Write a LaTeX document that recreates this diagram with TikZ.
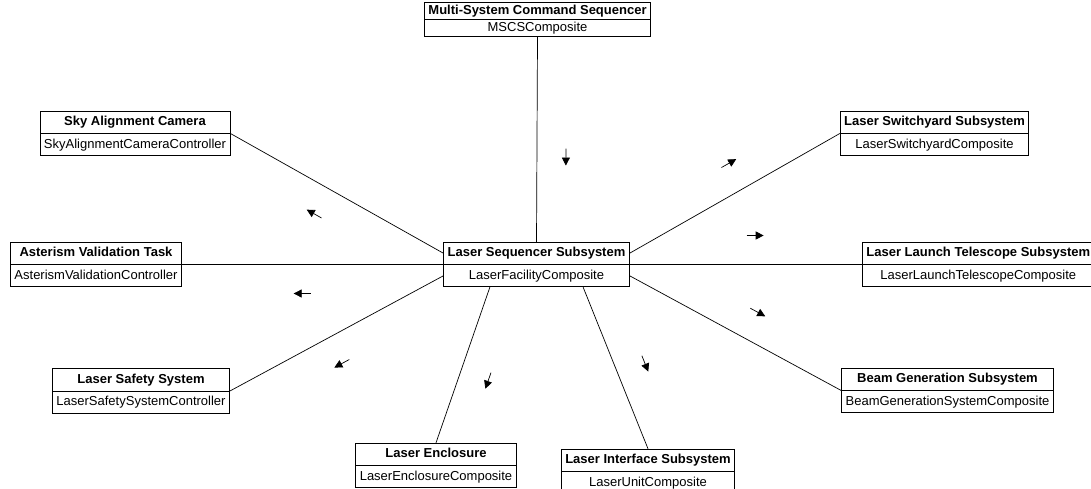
\documentclass[tikz,border=0pt]{standalone}
\usepackage{fontspec}
\setmainfont{Liberation Sans}
\usetikzlibrary{shapes.multipart,arrows.meta,calc,decorations.markings}

% fixed strut so every compartment has the same height
\newcommand{\st}{\rule[-3pt]{0pt}{13pt}}

\begin{document}
\begin{tikzpicture}[x=1pt,y=-1pt,
  cls/.style={draw, line width=0.8pt, rectangle split, rectangle split parts=2,
    inner xsep=4pt, inner ysep=4.25pt, font=\fontsize{13}{15}\selectfont},
  slim/.style={inner ysep=1.75pt},
  link/.style={line width=0.7pt, postaction={decorate},
    decoration={markings, mark=at position #1 with
      {\draw[line width=0.7pt,-{Triangle[length=8pt,width=8pt]}] (-8.5pt,29pt) -- (8.5pt,29pt);}}},
  link/.default=0.54]

\fill[white] (0,0) rectangle (1091,489);
\useasboundingbox (0,0) rectangle (1091,489);

% components
\node[cls,slim] (mscs) at (537.5,19.5)
  {\st\textbf{Multi-System Command Sequencer}\nodepart{second}\st MSCSComposite};
\node[cls] (lss) at (536.5,264.5)
  {\st\textbf{Laser Sequencer Subsystem}\nodepart{second}\st LaserFacilityComposite};
\node[cls] (sac) at (135,133.5)
  {\st\textbf{Sky Alignment Camera}\nodepart{second}\st SkyAlignmentCameraController};
\node[cls] (avt) at (96,264.5)
  {\st\textbf{Asterism Validation Task}\nodepart{second}\st AsterismValidationController};
\node[cls] (lsafe) at (141,391)
  {\st\textbf{Laser Safety System}\nodepart{second}\st LaserSafetySystemController};
\node[cls] (encl) at (436,465.5)
  {\st\textbf{Laser Enclosure}\nodepart{second}\st LaserEnclosureComposite};
\node[cls] (lis) at (648,471.5)
  {\st\textbf{Laser Interface Subsystem}\nodepart{second}\st LaserUnitComposite};
\node[cls] (bgs) at (947.5,390.5)
  {\st\textbf{Beam Generation Subsystem}\nodepart{second}\st BeamGenerationSystemComposite};
\node[cls,anchor=west] (llts) at (862,264.5)
  {\st\textbf{Laser Launch Telescope Subsystem}\nodepart{second}\st LaserLaunchTelescopeComposite};
\node[cls] (lsw) at (934.5,133.5)
  {\st\textbf{Laser Switchyard Subsystem}\nodepart{second}\st LaserSwitchyardComposite};

% ports on the sequencer box
\coordinate (pw1) at ($(lss.north west)!0.25!(lss.south west)$);
\coordinate (pw3) at ($(lss.north west)!0.75!(lss.south west)$);
\coordinate (pe1) at ($(lss.north east)!0.25!(lss.south east)$);
\coordinate (pe3) at ($(lss.north east)!0.75!(lss.south east)$);
\coordinate (ps1) at ($(lss.south west)!0.25!(lss.south east)$);
\coordinate (ps3) at ($(lss.south west)!0.75!(lss.south east)$);

% associations with direction markers
\draw[link=0.585] (mscs.south) -- (lss.north);
\draw[link] (pw1) -- (sac.east);
\draw[link] (lss.west) -- (avt.east);
\draw[link] (pw3) -- (lsafe.east);
\draw[link] (ps1) -- (encl.north);
\draw[link] (ps3) -- (lis.north);
\draw[link] (pe3) -- (bgs.west);
\draw[link] (lss.east) -- (llts.west);
\draw[link] (pe1) -- (lsw.west);
\end{tikzpicture}
\end{document}
